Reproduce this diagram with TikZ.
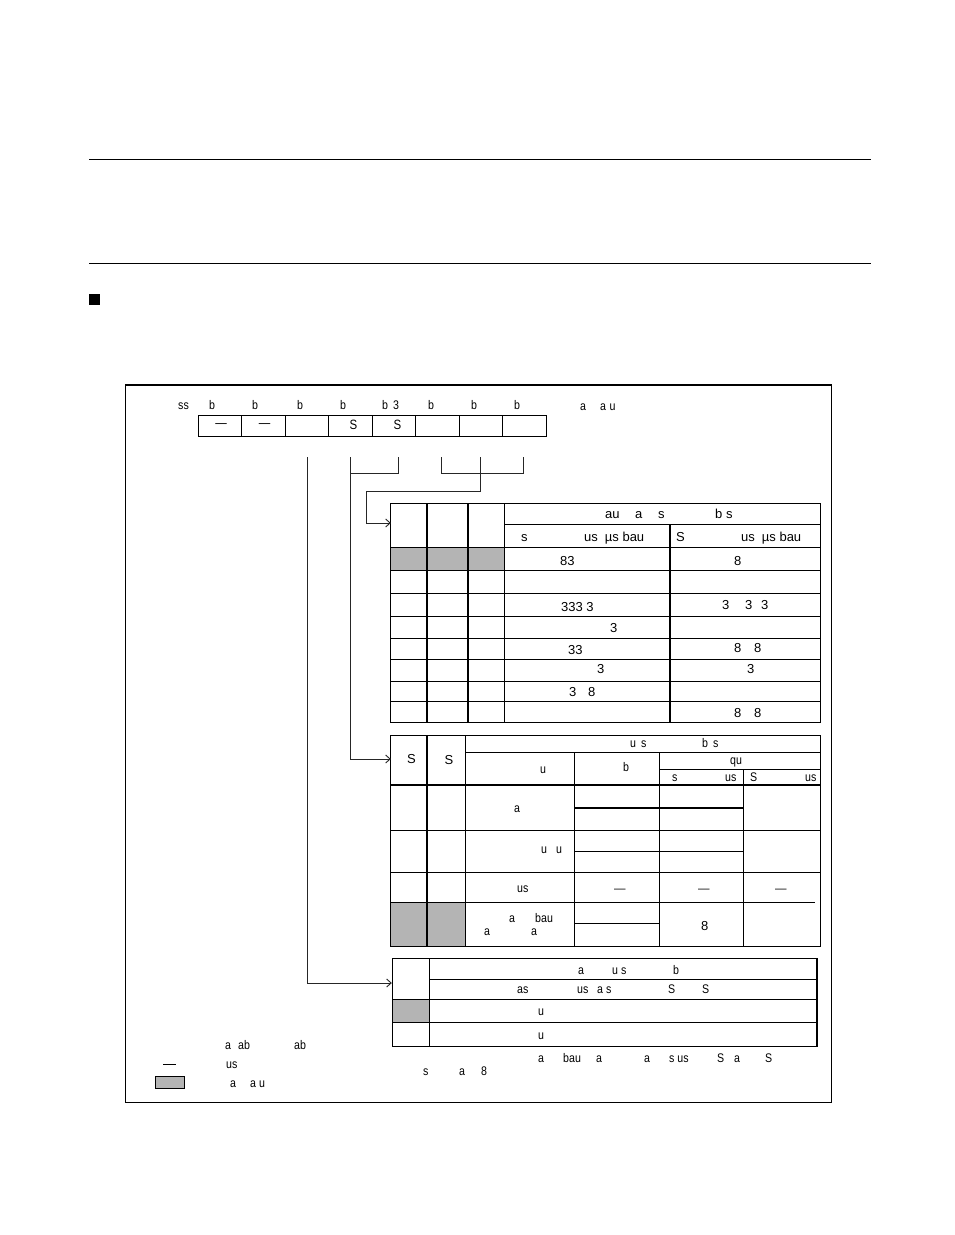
\documentclass[tikz,border=0pt]{standalone}
\usepackage{fontspec}
\setmainfont{Liberation Sans}
\newfontfamily\narrowfont[FakeStretch=0.85]{Liberation Sans}
\usetikzlibrary{arrows.meta}
\definecolor{shaded}{RGB}{180,180,180}
\tikzset{
x=1pt, y=-1pt,
>={Straight Barb[length=4.5pt,width=8pt]}, % small open arrow heads
lbl/.style={anchor=base west, inner sep=0pt, font=\fontsize{13}{15}\selectfont},
lblsm/.style={anchor=base west, inner sep=0pt, font=\narrowfont\fontsize{12.5}{14}\selectfont},
lbldash/.style={anchor=base west, inner sep=0pt, font=\fontsize{11.5}{13}\selectfont},
regcell/.style={draw, line width=0.9pt, minimum width=43.5pt, minimum height=21pt, inner sep=0pt, outer sep=0pt, font=\narrowfont\fontsize{13.5}{15}\selectfont},
hdrcell/.style={minimum width=36pt, minimum height=30pt, inner sep=0pt},
conn/.style={line width=0.9pt, draw=black!85},
rule/.style={line width=0.9pt},
heavy/.style={line width=1.8pt},
}
\begin{document}
\begin{tikzpicture}
                \useasboundingbox (0,0) rectangle (954,1235);
                % page rules and frame
                \draw[rule] (89,159) -- (871,159);
                \draw[rule] (89,263) -- (871,263);
                \fill (89,294) rectangle (99.5,304.5);
                \draw[line width=1.2pt] (125.5,385) rectangle (831.5,1102.5);
                % register
                \node[lblsm] (ssl) at (178,409) {ss};
                \node[lblsm] (bsev) at (209,409) {b};
                \node[lblsm] (bsix) at (252,409) {b};
                \node[lblsm] (bfiv) at (297,409) {b};
                \node[lblsm] (bfou) at (340,409) {b};
                \node[lblsm] (bthr) at (382,409) {b\hspace{5pt}3};
                \node[lblsm] (btwo) at (428,409) {b};
                \node[lblsm] (bone) at (471,409) {b};
                \node[lblsm] (bzer) at (514,409) {b};
                \node[lblsm] (inita) at (580,410) {a};
                \node[lblsm] (initb) at (600,410) {a\hspace{3.5pt}u};
                \node[regcell] (reg7) at (220,425.5) {\hspace*{2pt}—};
                \node[regcell] (reg6) at (263.5,425.5) {\hspace*{2pt}—};
                \node[regcell] (reg5) at (307,425.5) {};
                \node[regcell] (reg4) at (350.5,425.5) {\raisebox{1pt}{\hspace*{6pt}S}};
                \node[regcell] (reg3) at (394,425.5) {\raisebox{1pt}{\hspace*{7pt}S}};
                \node[regcell] (reg2) at (437.5,425.5) {};
                \node[regcell] (reg1) at (481,425.5) {};
                \node[regcell] (reg0) at (524.5,425.5) {};
                % connector ends
                \coordinate (sel5) at (307,457);
                \coordinate (sel4) at (350,457);
                \coordinate (sel3) at (398,457);
                \coordinate (sel2) at (441,457);
                \coordinate (sel1) at (480,457);
                \coordinate (sel0) at (523,457);
                \coordinate (joina) at (350,473);
                \coordinate (joinb) at (480,473);
                \coordinate (benda) at (480,491);
                \coordinate (bendb) at (366,491);
                % shaded cells
                \fill[shaded] (391,547) rectangle (505,570.5);
                \fill[shaded] (391,902) rectangle (465,946);
                \fill[shaded] (392,999) rectangle (429,1022);
                % first table
                \node[hdrcell] (hdrone) at (409,523) {};
                \draw[rule] (390.5,503.5) rectangle (820.5,722);
                \draw[rule] (505,524.5) -- (820.5,524.5);
                \draw[rule] (390.5,547) -- (820.5,547);
                \draw[rule] (390.5,570.5) -- (820.5,570.5);
                \draw[rule] (390.5,593.5) -- (820.5,593.5);
                \draw[rule] (390.5,616) -- (820.5,616);
                \draw[rule] (390.5,638.5) -- (820.5,638.5);
                \draw[rule] (390.5,659.5) -- (820.5,659.5);
                \draw[rule] (390.5,681) -- (820.5,681);
                \draw[rule] (390.5,701.5) -- (820.5,701.5);
                \draw[heavy] (427,503.5) -- (427,722);
                \draw[heavy] (468,503.5) -- (468,722);
                \draw[rule] (504.5,503.5) -- (504.5,722);
                \draw[heavy] (670,524.5) -- (670,722);
                \node[lbl] (tah) at (605,518) {au};
                \node[lbl] (tai) at (635,518) {a};
                \node[lbl] (taj) at (658,518) {s};
                \node[lbl] (tak) at (715,518) {b s};
                \node[lbl] (tal) at (521,541) {s};
                \node[lbl] (tam) at (584,541) {us\hspace{7pt}µs bau};
                \node[lbl] (tan) at (676,541) {S};
                \node[lbl] (tao) at (741,541) {us\hspace{7pt}µs bau};
                \node[lbl] (tap) at (560,565) {83};
                \node[lbl] (taq) at (734,565) {8};
                \node[lbl] (tar) at (561,611) {333 3};
                \node[lbl] (tas) at (722,609) {3};
                \node[lbl] (tat) at (745,609) {3};
                \node[lbl] (tau) at (761,609) {3};
                \node[lbl] (tav) at (610,632) {3};
                \node[lbl] (taw) at (568,654) {33};
                \node[lbl] (tax) at (734,652) {8};
                \node[lbl] (tay) at (754,652) {8};
                \node[lbl] (taz) at (597,673) {3};
                \node[lbl] (tba) at (747,673) {3};
                \node[lbl] (tbb) at (569,696) {3};
                \node[lbl] (tbc) at (588,696) {8};
                \node[lbl] (tbd) at (734,717) {8};
                \node[lbl] (tbe) at (754,717) {8};
                % second table
                \node[hdrcell] (hdrtwo) at (409,759) {};
                \draw[rule] (390.5,735) rectangle (820.5,946);
                \draw[rule] (466,752) -- (820.5,752);
                \draw[rule] (659,769) -- (820.5,769);
                \draw[heavy] (390.5,785) -- (820.5,785);
                \draw[heavy] (574,808) -- (743,808);
                \draw[rule] (390.5,830) -- (820.5,830);
                \draw[rule] (574,851) -- (743,851);
                \draw[rule] (390.5,872) -- (820.5,872);
                \draw[rule] (390.5,902.5) -- (815,902.5);
                \draw[rule] (574,923) -- (659,923);
                \draw[heavy] (427,735) -- (427,946);
                \draw[rule] (465.5,735) -- (465.5,946);
                \draw[rule] (574.5,752) -- (574.5,946);
                \draw[rule] (659.5,752) -- (659.5,946);
                \draw[rule] (743.5,769) -- (743.5,946);
                \node[lbl] (tca) at (407,763) {S};
                \node[lbl] (tcb) at (444.5,764) {S};
                \node[lblsm] (tcc) at (630,747) {u\hspace{2pt} s};
                \node[lblsm] (tcd) at (702,747) {b\hspace{2pt} s};
                \node[lblsm] (tce) at (540,773) {u};
                \node[lblsm] (tcf) at (623,771) {b};
                \node[lblsm] (tcg) at (730,764) {qu};
                \node[lblsm] (tch) at (672,781) {s};
                \node[lblsm] (tci) at (725,781) {us};
                \node[lblsm] (tcj) at (750,781) {S};
                \node[lblsm] (tck) at (805,781) {us};
                \node[lblsm] (tcl) at (514,812) {a};
                \node[lblsm] (tcm) at (541,853) {u};
                \node[lblsm] (tcn) at (556,853) {u};
                \node[lblsm] (tco) at (517,892) {us};
                \node[lbldash] (tcp) at (614,892) {—};
                \node[lbldash] (tcq) at (698,892) {—};
                \node[lbldash] (tcr) at (775,892) {—};
                \node[lblsm] (tcs) at (509,922) {a};
                \node[lblsm] (tct) at (535,922) {bau};
                \node[lblsm] (tcu) at (484,935) {a};
                \node[lblsm] (tcv) at (531,935) {a};
                \node[lbl] (tcw) at (701,930) {8};
                % third table
                \node[hdrcell] (hdrthr) at (410,983) {};
                \draw[rule] (392.5,958) -- (817,958);
                \draw[rule] (429,979.5) -- (817,979.5);
                \draw[rule] (392.5,999) -- (817,999);
                \draw[rule] (392.5,1022) -- (817,1022);
                \draw[rule] (392.5,1046.5) -- (817,1046.5);
                \draw[rule] (392.5,958) -- (392.5,1046.5);
                \draw[rule] (429.5,958) -- (429.5,1046.5);
                \draw[line width=1.2pt] (817,958) -- (817,1046.5);
                \node[lblsm] (tda) at (578,974) {a};
                \node[lblsm] (tdb) at (612,974) {u s};
                \node[lblsm] (tdc) at (673,974) {b};
                \node[lblsm] (tdd) at (517,993) {as};
                \node[lblsm] (tde) at (577,993) {us};
                \node[lblsm] (tdf) at (597,993) {a s};
                \node[lblsm] (tdg) at (668,993) {S};
                \node[lblsm] (tdh) at (702,993) {S};
                \node[lblsm] (tdi) at (538,1015) {u};
                \node[lblsm] (tdj) at (538,1039) {u};
                % note under the third table
                \node[lblsm] (nta) at (538,1062) {a};
                \node[lblsm] (ntb) at (563,1062) {bau};
                \node[lblsm] (ntc) at (596,1062) {a};
                \node[lblsm] (ntd) at (644,1062) {a};
                \node[lblsm] (nte) at (669,1062) {s us};
                \node[lblsm] (ntf) at (717,1062) {S};
                \node[lblsm] (ntg) at (734,1062) {a};
                \node[lblsm] (nth) at (765,1062) {S};
                \node[lblsm] (nti) at (423,1075) {s};
                \node[lblsm] (ntj) at (459,1075) {a};
                \node[lblsm] (ntk) at (481,1075) {8};
                % key
                \node[lblsm] (keya) at (225,1049) {a};
                \node[lblsm] (keyb) at (238,1049) {ab};
                \node[lblsm] (keyc) at (294,1049) {ab};
                \node[lblsm] (keyd) at (226,1068) {us};
                \node[lblsm] (keye) at (230,1087) {a};
                \node[lblsm] (keyf) at (250,1087) {a u};
                \draw[rule] (163,1064) -- (176,1064);
                \draw[rule, fill=shaded] (155.5,1076.5) rectangle (184.5,1088.5);
                % connectors
                \draw[conn, ->] (sel5) |- (hdrthr.west);
                \draw[conn, ->] (sel4) |- (hdrtwo.west);
                \draw[conn] (sel3) |- (joina);
                \draw[conn] (sel2) |- (joinb);
                \draw[conn] (sel0) |- (joinb);
                \draw[conn] (sel1) -- (benda) -- (bendb);
                \draw[conn, ->] (bendb) |- (hdrone.west);
                \end{tikzpicture}
\end{document}
